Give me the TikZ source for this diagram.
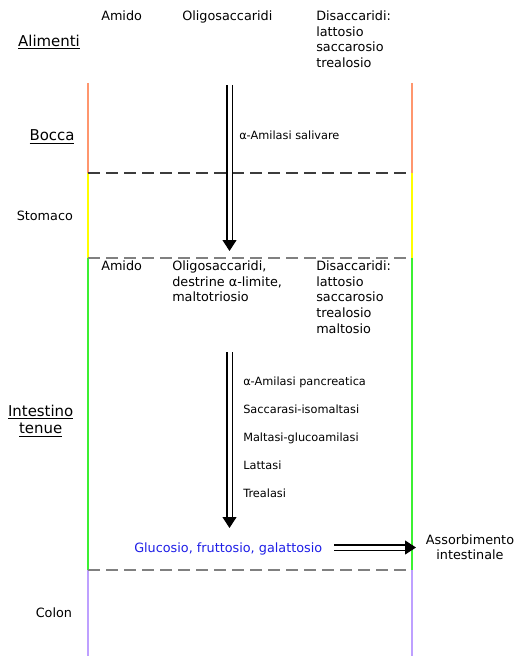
\documentclass[tikz,border=0pt]{standalone}
\usepackage{fontspec}
\setmainfont{DejaVu Sans}
\usetikzlibrary{arrows.meta}
\definecolor{cOrange}{RGB}{255,150,110}
\definecolor{cYellow}{RGB}{255,255,0}
\definecolor{cGreen}{RGB}{60,240,50}
\definecolor{cPurple}{RGB}{190,160,255}
\definecolor{cBlue}{RGB}{30,30,230}
\definecolor{cDashA}{RGB}{60,60,60}
\definecolor{cDashB}{RGB}{128,128,128}
\newcommand\stackL[1]{\begin{tabular}[t]{@{}l@{}}#1\end{tabular}}
\newcommand\stackC[1]{\begin{tabular}[t]{@{}c@{}}#1\end{tabular}}
\tikzset{
  lbl/.style={inner sep=0pt, anchor=base west, font=\fontsize{9.6pt}{11.7pt}\selectfont},
  enz/.style={inner sep=0pt, anchor=base west, font=\fontsize{8.5pt}{10pt}\selectfont},
  organ/.style={inner sep=0pt, anchor=base, font=\fontsize{11.2pt}{13pt}\selectfont},
  sep/.style={line width=1.05pt, dash pattern=on 9pt off 4.5pt},
  wall/.style={line width=1.2pt},
  flow/.style={double, double distance=3pt, line width=0.825pt, -{Triangle[length=8.25pt, width=10.5pt]}},
}
\begin{document}
\begin{tikzpicture}[x=0.75pt, y=-0.75pt]
\useasboundingbox (0,0) rectangle (530,656);
% walls
\coordinate (L0) at (88,83);  \coordinate (L1) at (88,173);
\coordinate (L2) at (88,258); \coordinate (L3) at (88,570); \coordinate (L4) at (88,656);
\coordinate (R0) at (412,83);  \coordinate (R1) at (412,173);
\coordinate (R2) at (412,258); \coordinate (R3) at (412,570); \coordinate (R4) at (412,656);
\draw[wall, cOrange] (L0) -- (L1); \draw[wall, cOrange] (R0) -- (R1);
\draw[wall, cYellow] (L1) -- (L2); \draw[wall, cYellow] (R1) -- (R2);
\draw[wall, cGreen] (L2) -- (L3); \draw[wall, cGreen] (R2) -- (R3);
\draw[wall, cPurple] (L3) -- (L4); \draw[wall, cPurple] (R3) -- (R4);
\draw[sep, cDashA] (L1) -- (R1);
\draw[sep, cDashB] (L2) -- (R2);
\draw[sep, cDashB] (L3) -- (R3);
% organ labels
\node[organ] (alim) at (49,46.3) {\underline{Alimenti}};
\node[organ] (bocca) at (52,140.7) {\underline{Bocca}};
\node[lbl] (stom) at (16.5,220.7) {Stomaco};
\node[organ] (int) at (40.7,416) {\stackC{\underline{Intestino}\\[0.3pt]\underline{tenue}}};
\node[lbl] (colon) at (35.5,617.3) {Colon};
% food
\node[lbl] (amido1) at (101,20.5) {Amido};
\node[lbl] (oligo1) at (182,20.5) {Oligosaccaridi};
\node[lbl] (disa1) at (316,20.5) {\stackL{Disaccaridi:\\lattosio\\saccarosio\\trealosio}};
\node[lbl] (amido2) at (101,270.7) {Amido};
\node[lbl] (oligo2) at (172,270.7) {\stackL{Oligosaccaridi,\\destrine α-limite,\\maltotriosio}};
\node[lbl] (disa2) at (316,270.7) {\stackL{Disaccaridi:\\lattosio\\saccarosio\\trealosio\\maltosio}};
% enzymes
\node[enz] (salv) at (239,140) {α-Amilasi salivare};
\node[enz] (e1) at (243,385.7) {α-Amilasi pancreatica};
\node[enz] (e2) at (243,413.7) {Saccarasi-isomaltasi};
\node[enz] (e3) at (243,441.7) {Maltasi-glucoamilasi};
\node[enz] (e4) at (243,469.7) {Lattasi};
\node[enz] (e5) at (243,497.7) {Trealasi};
% products
\node[lbl, text=cBlue] (gluc) at (134,552.3) {Glucosio, fruttosio, galattosio};
\node[lbl, anchor=base] (ass) at (470,544.3) {\stackC{Assorbimento\\intestinale}};
% flows
\coordinate (a1s) at (229.5,85);  \coordinate (a1e) at (229.5,251);
\coordinate (a2s) at (229.5,352); \coordinate (a2e) at (229.5,528);
\coordinate (a3s) at (334,547.5); \coordinate (a3e) at (416,547.5);
\draw[flow] (a1s) -- (a1e);
\draw[flow] (a2s) -- (a2e);
\draw[flow] (a3s) -- (a3e);
\end{tikzpicture}
\end{document}
